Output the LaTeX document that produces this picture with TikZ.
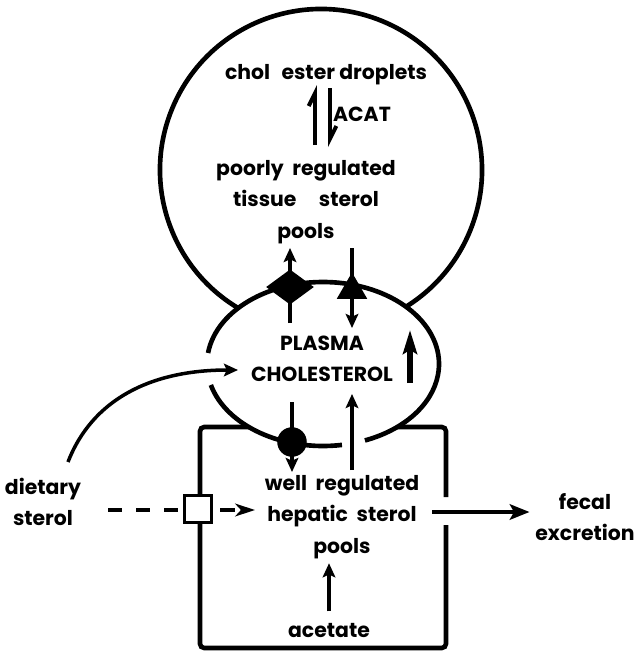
\documentclass[tikz,border=0pt]{standalone}
\usepackage{fontspec}
\setmainfont{Poppins}
\usetikzlibrary{arrows.meta,shapes.geometric}

\tikzset{
	txt/.style={font=\fontsize{14.5}{22.4}\selectfont\bfseries, align=center, inner sep=0pt},
	outline/.style={line width=3.3pt},
	flow/.style={line width=2.5pt,-{Stealth[length=10pt,width=9pt,inset=2pt]}},
	bigflow/.style={line width=4.3pt,-{Stealth[length=17pt,width=10pt,inset=3pt]}},
	harp/.style={line width=2.8pt,-{Straight Barb[left,length=9pt,width=9pt]}},
	marker/.style={fill=black,inner sep=0pt},
}

\begin{document}
\begin{tikzpicture}[x=0.025cm,y=-0.025cm]
	\useasboundingbox (0,0) rectangle (635,652);
	
	%centres
	\coordinate (cellC)   at (321,170);
	\coordinate (plasmaC) at (323,364);
	
	%tissue circle
	\draw[outline] (cellC) ++(115:161) arc[start angle=115,end angle=425,radius=161];
	
	%liver box
	\draw[outline,rounded corners=3pt] (446,497) -- (446,427) -- (200,427) -- (200,648) -- (446,648) -- (446,525);
	
	%plasma ellipse
	\fill[white] (plasmaC) ellipse[x radius=116,y radius=82];
	\draw[outline] (plasmaC) ++(187.7:116 and 82) arc[start angle=187.7,end angle=428.8,x radius=116,y radius=82];
	\draw[outline] (plasmaC) ++(80.6:116 and 82) arc[start angle=80.6,end angle=165.2,x radius=116,y radius=82];
	
	%labels
	\node[txt] (droplets) at (326,75)  {chol\hspace{0.35em} ester droplets};
	\node[txt] (acat)     at (362,114) {ACAT};
	\node[txt] (tissue)   at (306,202) {poorly\ \ regulated\\tissue\hspace{1.1em}sterol\\pools};
	\node[txt] (plasma)   at (322,359) {PLASMA\\CHOLESTEROL};
	\node[txt] (hepatic)  at (342,517) {well\ \ regulated\\hepatic\ \ sterol\\pools};
	\node[txt] (dietary)  at (43,502)  {dietary\\sterol};
	\node[txt] (fecal)    at (585,517) {fecal\\excretion};
	\node[txt,anchor=base] (acetate) at (329,637) {acetate};
	
	%arrow ends
	\coordinate (esterUpS)  at (315,145);
	\coordinate (esterUpE)  at (315,85);
	\coordinate (esterDnS)  at (330,88);
	\coordinate (esterDnE)  at (330,147);
	\coordinate (effluxS)   at (290,323);
	\coordinate (effluxE)   at (290,248);
	\coordinate (influxS)   at (352,248);
	\coordinate (influxE)   at (352,328);
	\coordinate (uptakeS)   at (292,402);
	\coordinate (uptakeE)   at (292,472);
	\coordinate (secretS)   at (352,470);
	\coordinate (secretE)   at (352,394);
	\coordinate (riseS)     at (410,383);
	\coordinate (riseE)     at (410,330);
	\coordinate (dietS)     at (68,462);
	\coordinate (dietE)     at (238,370);
	\coordinate (absorbS)   at (108,510);
	\coordinate (absorbE)   at (255,510);
	\coordinate (fecalS)    at (432,512);
	
	%arrows
	\draw[harp] (esterUpS) -- (esterUpE);
	\draw[harp] (esterDnS) -- (esterDnE);
	\draw[flow] (effluxS) -- (effluxE);
	\draw[flow] (influxS) -- (influxE);
	\draw[flow] (uptakeS) -- (uptakeE);
	\draw[flow] (secretS) -- (secretE);
	\draw[bigflow] (riseS) -- (riseE);
	\draw[flow] (dietS) .. controls (92,400) and (150,370) .. (dietE);
	\draw[line width=2.5pt,dash pattern=on 10pt off 10pt,-{Stealth[length=14pt,width=9pt,inset=4pt]}] (absorbS) -- (absorbE);
	\draw[line width=2.6pt,-{Stealth[length=14pt,width=11pt,inset=3pt]},shorten >=4pt] (fecalS) -- (fecalS -| fecal.west);
	\draw[flow,shorten <=8pt,shorten >=3pt] (acetate.north) -- (acetate.north |- hepatic.south);
	
	%markers
	\node[marker,diamond,minimum width=34pt,minimum height=25pt] (effluxM) at (290,287) {};
	\node[marker,regular polygon,regular polygon sides=3,minimum size=25pt] (influxM) at (352,290) {};
	\node[marker,circle,minimum size=21pt] (uptakeM) at (292,442) {};
	\node[draw,fill=white,line width=2.5pt,minimum size=19pt,inner sep=0pt] (absorbM) at (198,509) {};
	
\end{tikzpicture}
\end{document}
